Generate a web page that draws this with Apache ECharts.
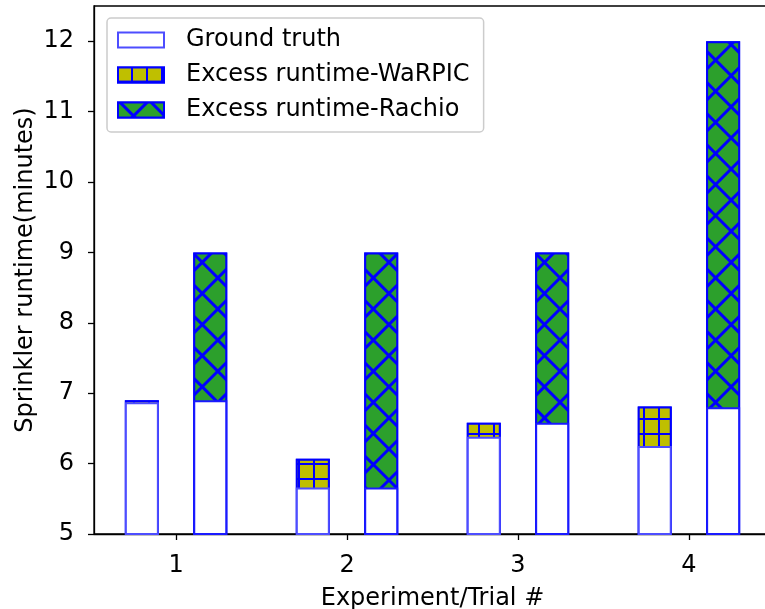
<!DOCTYPE html>
<html>
<head>
<meta charset="utf-8">
<script src="https://cdn.jsdelivr.net/npm/echarts@6/dist/echarts.min.js"></script>
<style>
  html, body { margin: 0; padding: 0; background: #fff; }
  #chart { width: 765px; height: 609px; }
</style>
</head>
<body>
<div id="chart"></div>
<script>
// trial numbers on the x axis
const trials = [1, 2, 3, 4]
// left bar: ground truth + WaRPIC excess
const groundTruth = [6.87, 5.66, 6.38, 6.25]
const warpicExcess = [0.03, 0.41, 0.2, 0.56]
// right bar: base + Rachio excess
const rachioBase = [6.9, 5.66, 6.58, 6.8]
const rachioExcess = [2.1, 3.34, 2.42, 5.2]

const OFFSET = 0.2
const font = 'DejaVu Sans'

const chart = echarts.init(document.getElementById('chart'))

// stacking does not work on a value x axis, so draw the totals first
// and lay the white ground-truth bars over them
const left = arr => arr.map((v, i) => [trials[i] - OFFSET, v])
const right = arr => arr.map((v, i) => [trials[i] + OFFSET, v])
const warpicTotal = groundTruth.map((v, i) => +(v + warpicExcess[i]).toFixed(3))
const rachioTotal = rachioBase.map((v, i) => +(v + rachioExcess[i]).toFixed(3))

const plusHatch = {
  symbol: 'rect',
  symbolSize: 1,
  color: '#bfbf00',
  dashArrayX: [[13, 2]],
  dashArrayY: [13, 2],
  rotation: 0
}
const crossHatch = {
  symbol: 'rect',
  symbolSize: 1,
  color: '#2ca02c',
  dashArrayX: [[19, 2.3]],
  dashArrayY: [19, 2.3],
  rotation: Math.PI / 4
}

const barCommon = { type: 'bar', barWidth: 34, barGap: '-100%' }

const option = {
  animation: false,
  grid: {
    left: 94,
    right: -6,
    top: 6,
    bottom: 75,
    containLabel: false,
    outerBoundsMode: 'none',
    show: true,
    borderColor: '#000',
    borderWidth: 1.3
  },
  legend: {
    orient: 'vertical',
    left: 107,
    top: 18,
    padding: [8, 14, 8, 10],
    itemWidth: 46,
    itemHeight: 15,
    itemGap: 7,
    icon: 'rect',
    borderColor: '#cccccc',
    borderWidth: 1.5,
    borderRadius: 4,
    backgroundColor: '#fff',
    data: ['Ground truth', 'Excess runtime-WaRPIC', 'Excess runtime-Rachio'],
    textStyle: {
      fontFamily: font,
      fontSize: 24,
      color: '#000',
      lineHeight: 28,
      padding: [0, 0, 0, 17]
    }
  },
  xAxis: {
    type: 'value',
    min: 0.52,
    max: 4.48,
    name: 'Experiment/Trial #',
    nameLocation: 'middle',
    nameGap: 53,
    nameMoveOverlap: false,
    nameTextStyle: { fontFamily: font, fontSize: 24, color: '#000' },
    splitLine: { show: false },
    axisLine: { show: true, lineStyle: { color: '#000', width: 1.3 } },
    axisTick: {
      show: true,
      length: 6,
      lineStyle: { color: '#000', width: 1.3 },
      customValues: trials
    },
    axisLabel: {
      fontFamily: font,
      fontSize: 24,
      color: '#000',
      margin: 20,
      customValues: trials
    }
  },
  yAxis: {
    type: 'value',
    min: 5,
    max: 12.5,
    interval: 1,
    name: 'Sprinkler runtime(minutes)',
    nameLocation: 'middle',
    nameGap: 56,
    nameMoveOverlap: false,
    nameTextStyle: { fontFamily: font, fontSize: 24, color: '#000' },
    splitLine: { show: false },
    axisLine: { show: true, lineStyle: { color: '#000', width: 1.3 } },
    axisTick: { show: true, length: 6, lineStyle: { color: '#000', width: 1.3 } },
    axisLabel: {
      fontFamily: font,
      fontSize: 24,
      color: '#000',
      margin: 20,
      showMaxLabel: false,
      formatter: v => (v % 1 === 0 ? String(v) : '')
    }
  },
  series: [
    {
      ...barCommon,
      name: 'Excess runtime-WaRPIC',
      data: left(warpicTotal),
      itemStyle: { color: '#0000ff', borderColor: '#0000ff', borderWidth: 2, decal: plusHatch }
    },
    {
      ...barCommon,
      name: 'Excess runtime-Rachio',
      data: right(rachioTotal),
      itemStyle: { color: '#0000ff', borderColor: '#0000ff', borderWidth: 2, decal: crossHatch }
    },
    {
      ...barCommon,
      name: 'Ground truth',
      data: left(groundTruth),
      itemStyle: { color: '#ffffff', borderColor: '#4d4dff', borderWidth: 2 }
    },
    {
      ...barCommon,
      name: 'Ground truth',
      data: right(rachioBase),
      itemStyle: { color: '#ffffff', borderColor: '#1a1aff', borderWidth: 2 }
    }
  ]
}

chart.setOption(option)
</script>
</body>
</html>
